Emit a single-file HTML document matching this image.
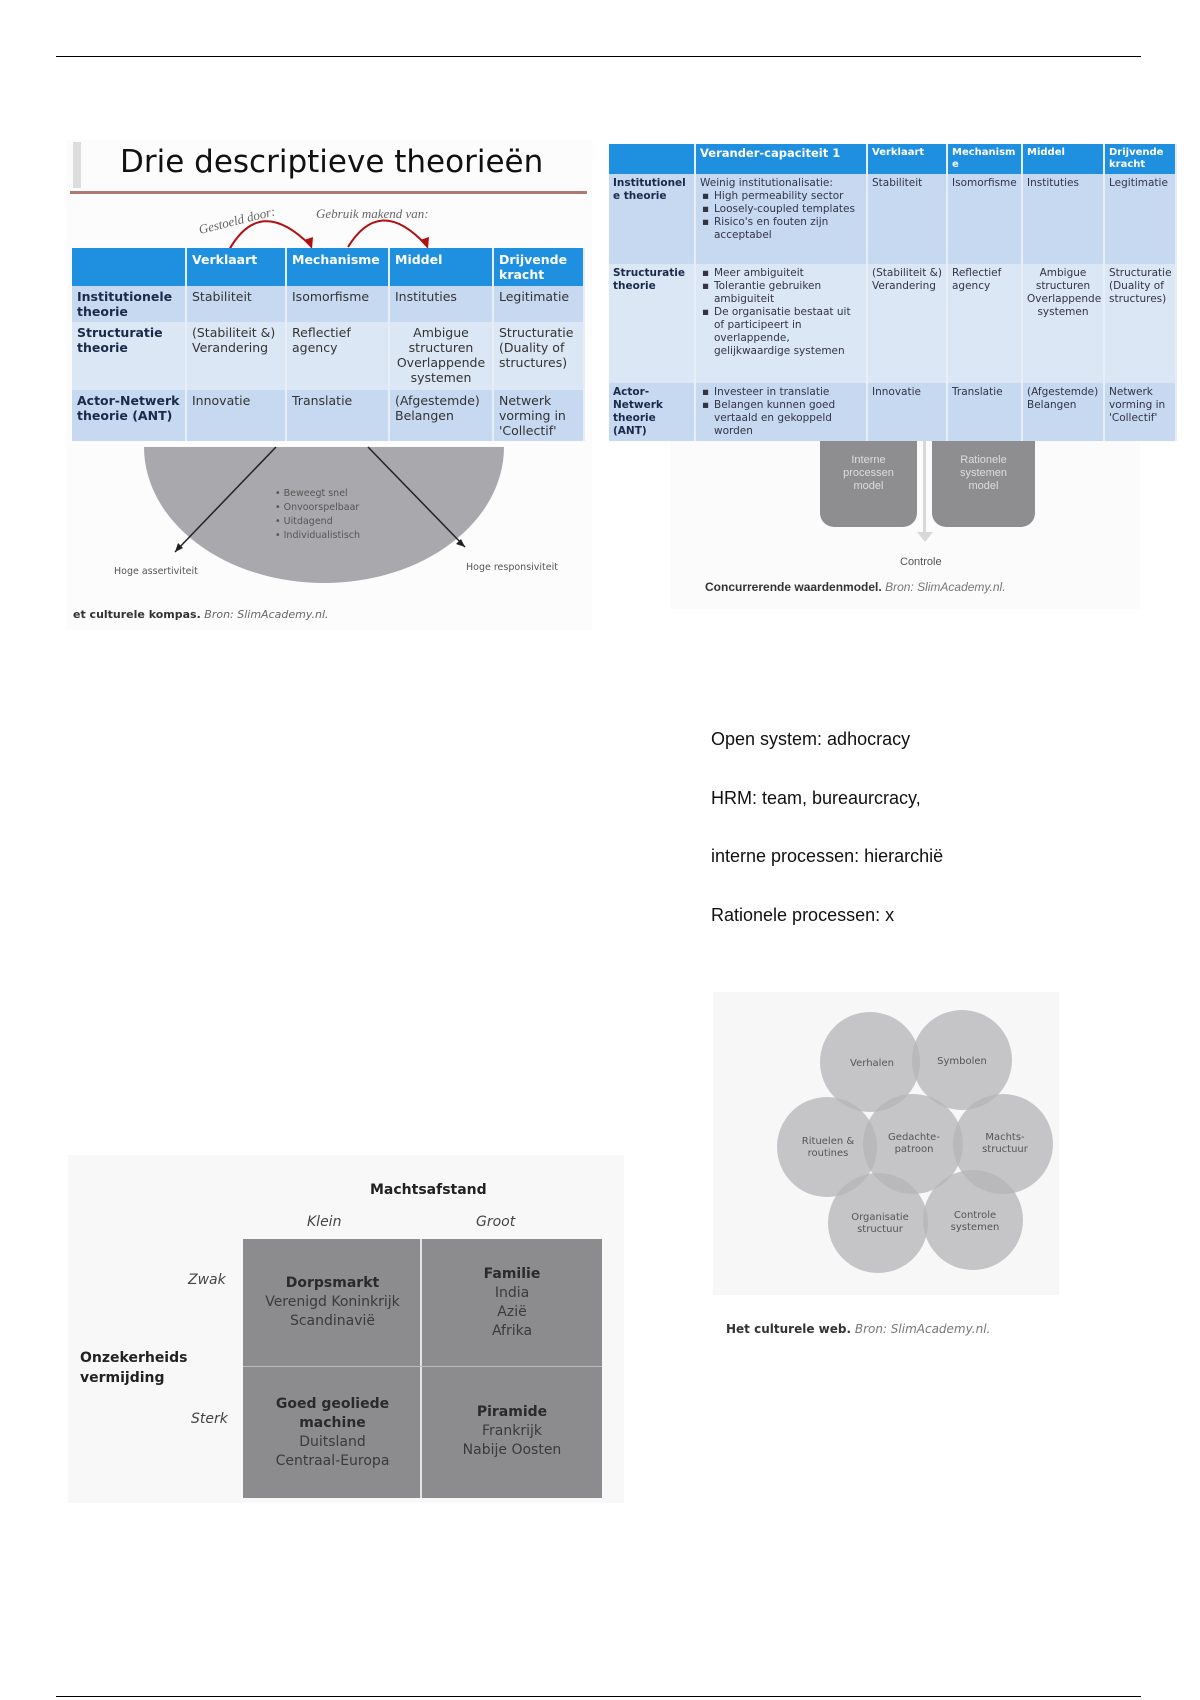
<!DOCTYPE html>
<html><head><meta charset="utf-8">
<style>
*{margin:0;padding:0;box-sizing:border-box}
body{width:1200px;height:1700px;background:#fff;position:relative;overflow:hidden;font-family:"Liberation Sans","DejaVu Sans",sans-serif}
.a{position:absolute}
.hl{position:absolute;height:1px;background:#000}
table{border-collapse:collapse;position:absolute;table-layout:fixed}
.lt td{font-family:"DejaVu Sans",sans-serif;font-size:12.5px;line-height:15px;color:#333;vertical-align:top;padding:3px 5px;border-right:2px solid #e8eef8}
.lt th{font-family:"DejaVu Sans",sans-serif;font-size:12.5px;line-height:15px;color:#fff;text-align:left;vertical-align:top;padding:4px 5px;background:#1f8fe0;border-right:2px solid #e8eef8}
.lt td.h{font-weight:bold;color:#1a2a4a}
.rt td{font-family:"DejaVu Sans",sans-serif;font-size:10.5px;line-height:13px;color:#334;vertical-align:top;padding:3px 4px;border-right:2px solid #e8eef8}
.rt th{font-family:"DejaVu Sans",sans-serif;font-size:10px;line-height:12px;color:#fff;text-align:left;vertical-align:top;padding:3px 4px;background:#1f8fe0;border-right:2px solid #e8eef8}
.rt td.h{font-weight:bold;color:#1a2a4a}
.r1{background:#c6d9f1}.r2{background:#dce7f5}
.rt ul{list-style:none}
.rt li{padding-left:14px;position:relative}
.rt li:before{content:"▪";position:absolute;left:2px}
.txt{position:absolute;left:711px;font-size:18px;color:#111}
.cell{position:absolute;text-align:center;font-family:"DejaVu Sans",sans-serif;font-size:14px;line-height:19px;color:#3a3a3a}
.cell b{color:#2a2a2a}
</style></head><body>
<div class="hl" style="left:56px;top:56px;width:1085px"></div>
<div class="hl" style="left:56px;top:1696px;width:1085px"></div>

<!-- Left figure -->
<div class="a" style="left:66px;top:140px;width:526px;height:490px;background:#fcfcfc"></div>
<div class="a" style="left:73px;top:142px;width:8px;height:46px;background:#ddd"></div>
<div class="a" style="left:120px;top:144px;font-family:'DejaVu Sans',sans-serif;font-size:31px;color:#111">Drie descriptieve theorieën</div>
<div class="a" style="left:70px;top:191px;width:517px;height:3px;background:#b07a74"></div>
<svg class="a" style="left:0;top:0" width="600" height="640">
<text x="200" y="234" font-family="Liberation Serif,serif" font-style="italic" font-size="13" fill="#666" transform="rotate(-14 200 234)">Gestoeld door:</text>
<text x="316" y="218" font-family="Liberation Serif,serif" font-style="italic" font-size="13" fill="#666">Gebruik makend van:</text>
<path d="M229 250 Q260 195 310 245" stroke="#b01010" stroke-width="2" fill="none"/>
<path d="M304 240 L312 249 L313 237 Z" fill="#b01010"/>
<path d="M348 247 Q380 195 426 245" stroke="#b01010" stroke-width="2" fill="none"/>
<path d="M420 240 L428 249 L429 237 Z" fill="#b01010"/>
<path d="M144 447 A180 136 0 0 0 504 447 Z" fill="#a9a9ad"/>
<line x1="276" y1="447" x2="175" y2="552" stroke="#222" stroke-width="1.5"/>
<path d="M175 552 l3 -9 l5 5 z" fill="#222"/>
<line x1="368" y1="447" x2="465" y2="547" stroke="#222" stroke-width="1.5"/>
<path d="M465 547 l-9 -3 l5 -5 z" fill="#222"/>
<g font-family="DejaVu Sans,sans-serif" font-size="9.5" fill="#555">
<text x="275" y="496">•   Beweegt snel</text>
<text x="275" y="510">•   Onvoorspelbaar</text>
<text x="275" y="524">•   Uitdagend</text>
<text x="275" y="538">•   Individualistisch</text>
<text x="114" y="574">Hoge assertiviteit</text>
<text x="466" y="570">Hoge responsiviteit</text>
</g>
<text x="73" y="618" font-family="DejaVu Sans,sans-serif" font-size="11" fill="#333"><tspan font-weight="bold">et culturele kompas.</tspan><tspan font-style="italic" fill="#666"> Bron: SlimAcademy.nl.</tspan></text>
</svg>
<table class="lt" style="left:72px;top:248px;width:512px">
<colgroup><col style="width:114px"><col style="width:100px"><col style="width:103px"><col style="width:104px"><col style="width:91px"></colgroup>
<tr style="height:36px"><th></th><th>Verklaart</th><th>Mechanisme</th><th>Middel</th><th>Drijvende kracht</th></tr>
<tr class="r1" style="height:36px"><td class="h">Institutionele theorie</td><td>Stabiliteit</td><td>Isomorfisme</td><td>Instituties</td><td>Legitimatie</td></tr>
<tr class="r2" style="height:68px"><td class="h">Structuratie theorie</td><td>(Stabiliteit &amp;) Verandering</td><td>Reflectief agency</td><td style="text-align:center">Ambigue structuren Overlappende systemen</td><td>Structuratie (Duality of structures)</td></tr>
<tr class="r1" style="height:51px"><td class="h">Actor-Netwerk theorie (ANT)</td><td>Innovatie</td><td>Translatie</td><td>(Afgestemde) Belangen</td><td>Netwerk vorming in 'Collectif'</td></tr>
</table>

<!-- Right figure -->
<div class="a" style="left:670px;top:439px;width:470px;height:170px;background:#fbfbfb"></div>
<div class="a" style="left:820px;top:432px;width:97px;height:95px;background:#8e8e90;border-radius:0 0 14px 14px;color:#ddd;font-size:11px;text-align:center;padding-top:22px;line-height:13px">Interne<br>processen<br>model</div>
<div class="a" style="left:932px;top:432px;width:103px;height:95px;background:#8e8e90;border-radius:0 0 14px 14px;color:#ddd;font-size:11px;text-align:center;padding-top:22px;line-height:13px">Rationele<br>systemen<br>model</div>
<div class="a" style="left:923px;top:439px;width:3px;height:95px;background:#d8d8d8"></div>
<div class="a" style="left:917px;top:532px;width:0;height:0;border-left:8px solid transparent;border-right:8px solid transparent;border-top:10px solid #d8d8d8"></div>
<div class="a" style="left:900px;top:556px;font-size:11px;color:#555">Controle</div>
<div class="a" style="left:705px;top:580px;font-size:12px;color:#333"><b>Concurrerende waardenmodel.</b> <i style="color:#777">Bron: SlimAcademy.nl.</i></div>
<table class="rt" style="left:609px;top:144px;width:567px">
<colgroup><col style="width:86px"><col style="width:172px"><col style="width:80px"><col style="width:75px"><col style="width:82px"><col style="width:72px"></colgroup>
<tr style="height:29px"><th></th><th style="font-size:11.5px">Verander-capaciteit 1</th><th>Verklaart</th><th>Mechanism e</th><th>Middel</th><th>Drijvende kracht</th></tr>
<tr class="r1" style="height:90px"><td class="h">Institutionel e theorie</td><td>Weinig institutionalisatie:<ul><li>High permeability sector</li><li>Loosely-coupled templates</li><li>Risico's en fouten zijn acceptabel</li></ul></td><td>Stabiliteit</td><td>Isomorfisme</td><td>Instituties</td><td>Legitimatie</td></tr>
<tr class="r2" style="height:119px"><td class="h">Structuratie theorie</td><td><ul><li>Meer ambiguiteit</li><li>Tolerantie gebruiken ambiguiteit</li><li>De organisatie bestaat uit of participeert in overlappende, gelijkwaardige systemen</li></ul></td><td>(Stabiliteit &amp;) Verandering</td><td>Reflectief agency</td><td style="text-align:center">Ambigue structuren Overlappende systemen</td><td>Structuratie (Duality of structures)</td></tr>
<tr class="r1" style="height:57px"><td class="h">Actor-Netwerk theorie (ANT)</td><td><ul><li>Investeer in translatie</li><li>Belangen kunnen goed vertaald en gekoppeld worden</li></ul></td><td>Innovatie</td><td>Translatie</td><td>(Afgestemde) Belangen</td><td>Netwerk vorming in 'Collectif'</td></tr>
</table>

<!-- Text -->
<div class="txt" style="top:729px">Open system: adhocracy</div>
<div class="txt" style="top:788px">HRM: team, bureaurcracy,</div>
<div class="txt" style="top:846px">interne processen: hierarchië</div>
<div class="txt" style="top:905px">Rationele processen: x</div>

<!-- Cultural web -->
<div class="a" style="left:713px;top:992px;width:346px;height:303px;background:#f7f7f7"></div>
<svg class="a" style="left:0;top:0" width="1200" height="1350">
<g fill="#b4b4b8" fill-opacity="0.75">
<circle cx="870" cy="1062" r="50"/><circle cx="962" cy="1060" r="50"/>
<circle cx="827" cy="1147" r="50"/><circle cx="913" cy="1144" r="50"/><circle cx="1003" cy="1144" r="50"/>
<circle cx="878" cy="1223" r="50"/><circle cx="973" cy="1220" r="50"/>
</g>
<g font-family="DejaVu Sans,sans-serif" font-size="10" fill="#555" text-anchor="middle">
<text x="872" y="1066">Verhalen</text><text x="962" y="1064">Symbolen</text>
<text x="828" y="1144">Rituelen &amp;</text><text x="828" y="1156">routines</text>
<text x="914" y="1140">Gedachte-</text><text x="914" y="1152">patroon</text>
<text x="1005" y="1140">Machts-</text><text x="1005" y="1152">structuur</text>
<text x="880" y="1220">Organisatie</text><text x="880" y="1232">structuur</text>
<text x="975" y="1218">Controle</text><text x="975" y="1230">systemen</text>
</g>
<text x="726" y="1333" font-family="DejaVu Sans,sans-serif" font-size="12" fill="#333"><tspan font-weight="bold">Het culturele web.</tspan><tspan font-style="italic" fill="#777"> Bron: SlimAcademy.nl.</tspan></text>
</svg>

<!-- Matrix -->
<div class="a" style="left:68px;top:1155px;width:556px;height:348px;background:#f8f8f8"></div>
<div class="a" style="left:243px;top:1239px;width:359px;height:259px;background:#8c8c8e"></div>
<div class="a" style="left:420px;top:1239px;width:2px;height:259px;background:#e4e4e4"></div>
<div class="a" style="left:243px;top:1366px;width:359px;height:1px;background:#bbb"></div>
<div class="a" style="left:370px;top:1182px;font-family:'DejaVu Sans',sans-serif;font-weight:bold;font-size:14px;color:#222">Machtsafstand</div>
<div class="a" style="left:307px;top:1214px;font-family:'DejaVu Sans',sans-serif;font-style:italic;font-size:14px;color:#444">Klein</div>
<div class="a" style="left:476px;top:1214px;font-family:'DejaVu Sans',sans-serif;font-style:italic;font-size:14px;color:#444">Groot</div>
<div class="a" style="left:188px;top:1272px;font-family:'DejaVu Sans',sans-serif;font-style:italic;font-size:14px;color:#444">Zwak</div>
<div class="a" style="left:191px;top:1411px;font-family:'DejaVu Sans',sans-serif;font-style:italic;font-size:14px;color:#444">Sterk</div>
<div class="a" style="left:80px;top:1348px;font-family:'DejaVu Sans',sans-serif;font-weight:bold;font-size:14px;line-height:20px;color:#222">Onzekerheids<br>vermijding</div>
<div class="cell" style="left:245px;top:1274px;width:175px"><b>Dorpsmarkt</b><br>Verenigd Koninkrijk<br>Scandinavië</div>
<div class="cell" style="left:422px;top:1265px;width:180px"><b>Familie</b><br>India<br>Azië<br>Afrika</div>
<div class="cell" style="left:245px;top:1395px;width:175px"><b>Goed geoliede<br>machine</b><br>Duitsland<br>Centraal-Europa</div>
<div class="cell" style="left:422px;top:1403px;width:180px"><b>Piramide</b><br>Frankrijk<br>Nabije Oosten</div>
</body></html>
